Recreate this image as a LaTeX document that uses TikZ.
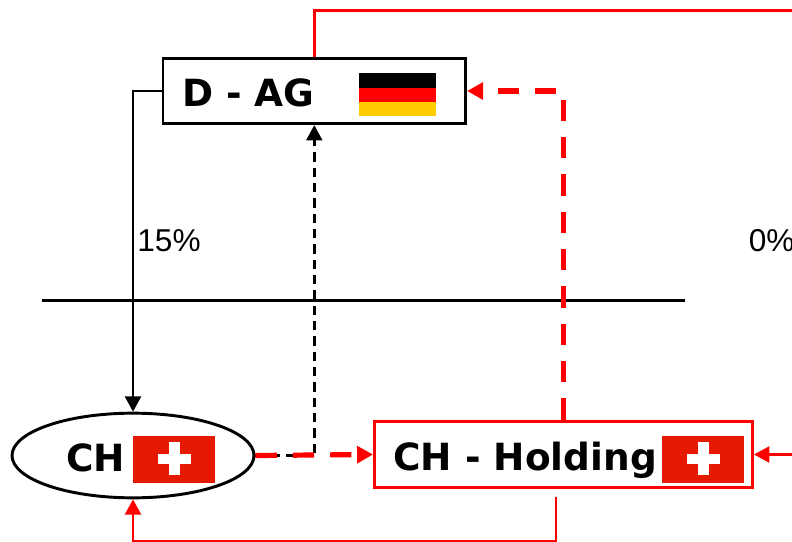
\documentclass[tikz,border=0pt]{standalone}
\usepackage{fontspec}
\setmainfont{DejaVu Sans}
\newfontfamily\pctfont{Liberation Sans}
\usetikzlibrary{arrows.meta,shapes.geometric}
\definecolor{chred}{HTML}{E61A03}
\definecolor{degold}{HTML}{FFCC00}
\tikzset{
  lbl/.style={inner sep=0, font=\bfseries\fontsize{28.1}{30}\selectfont},
  pct/.style={inner sep=0, font=\pctfont\fontsize{23.7}{26}\selectfont},
  bar/.style={inner sep=0, minimum width=#1*0.75pt, draw=none},
  conn/.style={line width=1.8pt, -{Triangle[length=11.5pt,width=12pt]}},
  thick red/.style={line width=3.9pt, red, dash pattern=on 16pt off 12pt, -{Triangle[length=12pt,width=12.5pt]}}
}
\begin{document}
\begin{tikzpicture}[x=0.75pt,y=-0.75pt]
\useasboundingbox (0,0) rectangle (792,542);
% boxes
\node[draw, line width=2.2pt, inner sep=0, minimum width=227pt, minimum height=49pt] (dag) at (314.3,91){};
\node[draw, ellipse, line width=2.2pt, inner sep=0, minimum width=181.5pt, minimum height=63.5pt] (ch) at (133,455.5){};
\node[draw=red, line width=2.2pt, inner sep=0, minimum width=283.5pt, minimum height=50pt] (hold) at (563.5,454.5){};
% labels
\node[lbl, anchor=base] (tdag) at (248.5,106){D - AG};
\node[lbl, anchor=base] (tch) at (95.5,471){CH};
\node[lbl, anchor=base] (thold) at (525,470){CH - Holding};
\node[pct] (p15) at (169,240.5){15\%};
\node[pct, anchor=west] (p0) at (748.5,240.5){0\%};
% flags
\node[bar=77, fill=black, minimum height=11.25pt] (fd0) at (397.5,80.5){};
\node[bar=77, fill=red, minimum height=10.5pt] (fd1) at (397.5,95){};
\node[bar=77, fill=degold, minimum height=10.5pt] (fd2) at (397.5,109){};
\node[bar=82, fill=chred, minimum height=35.25pt] (fc0) at (174,459.5){};
\node[bar=33, fill=white, minimum height=7.5pt] (fc1) at (174,458.5){};
\node[bar=11, fill=white, minimum height=25pt] (fc2) at (174,458.5){};
\node[bar=82, fill=chred, minimum height=35.25pt] (fh0) at (703,459.5){};
\node[bar=33, fill=white, minimum height=7.5pt] (fh1) at (703,458.5){};
\node[bar=11, fill=white, minimum height=25pt] (fh2) at (703,458.5){};
% free ends
\coordinate (ctop) at (792,10.5);
\coordinate (cin) at (792,454.5);
\coordinate (cout) at (556,497);
\coordinate (cdown) at (556,541);
\coordinate (cl) at (42,300.5);
\coordinate (cr) at (685,300.5);
% connectors
\draw[line width=1.8pt] (cl) -- (cr);
\draw[conn] (dag.west) -| (ch.north);
\draw[conn, dash pattern=on 7pt off 4.5pt] (ch.east) -| (dag.south);
\draw[thick red] (ch.east) -- (hold.west);
\draw[thick red] (hold.north) |- (dag.east);
\draw[red, line width=1.8pt] (dag.north) |- (ctop);
\draw[red, line width=1.8pt, -{Triangle[length=11.5pt,width=12pt]}] (cin) -- (hold.east);
\draw[red, line width=1.8pt, -{Triangle[length=11.5pt,width=12pt]}] (cout) -- (cdown) -| (ch.south);
\end{tikzpicture}
\end{document}
